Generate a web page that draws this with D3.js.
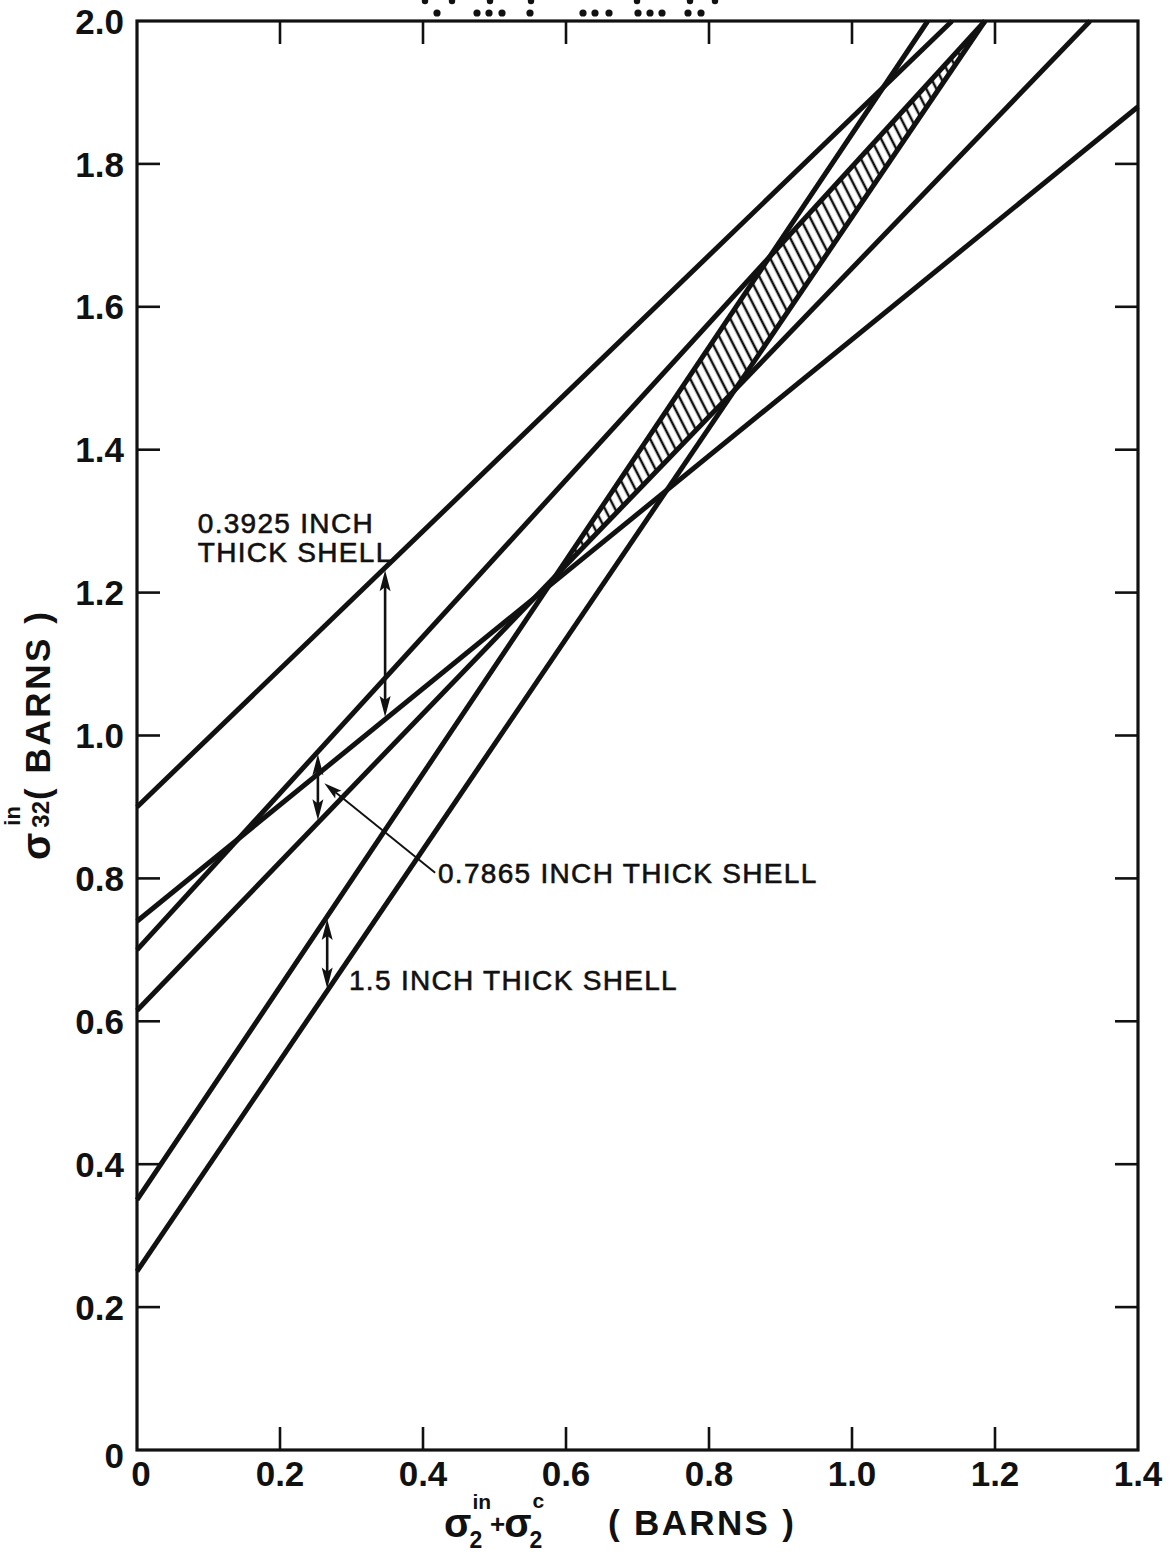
<!DOCTYPE html>
<html>
<head>
<meta charset="utf-8">
<script src="https://cdn.jsdelivr.net/npm/d3@7"></script>
<style>
  html, body { margin: 0; padding: 0; background: #fff; }
  svg { display: block; }
  text { font-family: "Liberation Sans", Arial, sans-serif; fill: #111; }
</style>
</head>
<body>
<svg id="chart" width="1174" height="1552"></svg>
<script>
// ---------------- DATA ----------------
const xTickValues = [0, 0.2, 0.4, 0.6, 0.8, 1.0, 1.2, 1.4];
const xTickLabels = ["0", "0.2", "0.4", "0.6", "0.8", "1.0", "1.2", "1.4"];
const yTickValues = [0, 0.2, 0.4, 0.6, 0.8, 1.0, 1.2, 1.4, 1.6, 1.8, 2.0];
const yTickLabels = ["0", "0.2", "0.4", "0.6", "0.8", "1.0", "1.2", "1.4", "1.6", "1.8", "2.0"];

// six straight lines: value at x = 0, and the point where each line leaves the frame
const lineShell     = ["0.3925", "0.3925", "0.7865", "0.7865", "1.5", "1.5"];
const lineBound     = ["upper", "lower", "upper", "lower", "upper", "lower"];
const lineIntercept = [0.90, 0.74, 0.70, 0.615, 0.35, 0.25];
const lineEndX      = [1.140, 1.400, 1.186, 1.333, 1.106, 1.186];
const lineEndY      = [2.0, 1.880, 2.0, 2.0, 2.0, 2.0];

// double-headed arrows showing each shell's band (upper line index, lower line index, x position)
const arrowUpper = [0, 2, 4];
const arrowLower = [1, 3, 5];
const arrowX     = [0.347, 0.253, 0.266];

// annotation texts
const annotationLines = [["0.3925 INCH", "THICK SHELL"], ["0.7865 INCH THICK SHELL"], ["1.5 INCH THICK SHELL"]];

// ---------------- LAYOUT ----------------
const W = 1174, H = 1552;
const margin = { left: 137, right: 36, top: 21, bottom: 102 };
const svg = d3.select("#chart");
const x = d3.scaleLinear().domain([0, 1.4]).range([margin.left, W - margin.right]);
const y = d3.scaleLinear().domain([0, 2.0]).range([H - margin.bottom, margin.top]);
const ink = "#111";
const tickLen = 23;

// annotation placements (data coordinates)
const annotationPos = [
  { x: 0.085, y: [1.283, 1.243] },
  { x: 0.421, y: [0.794] },
  { x: 0.2965, y: [0.644] }
];
const leader = { from: [0.262, 0.933], to: [0.417, 0.808] };

const f = i => {
  const m = (lineEndY[i] - lineIntercept[i]) / lineEndX[i];
  return v => lineIntercept[i] + m * v;
};

// ---------------- HATCHED REGION (intersection of the three bands) ----------------
function clipPoly(poly, keep) {
  const out = [];
  for (let i = 0; i < poly.length; i++) {
    const a = poly[i], b = poly[(i + 1) % poly.length];
    const va = keep(a), vb = keep(b);
    if (va >= 0) out.push(a);
    if ((va >= 0) !== (vb >= 0)) {
      const t = va / (va - vb);
      out.push([a[0] + t * (b[0] - a[0]), a[1] + t * (b[1] - a[1])]);
    }
  }
  return out;
}
let region = [[0, 0], [1.4, 0], [1.4, 2], [0, 2]];
lineIntercept.forEach((_, i) => {
  const fi = f(i);
  region = clipPoly(region, lineBound[i] === "upper" ? p => fi(p[0]) - p[1] : p => p[1] - fi(p[0]));
});

const defs = svg.append("defs");
const pat = defs.append("pattern")
  .attr("id", "hatch").attr("patternUnits", "userSpaceOnUse")
  .attr("width", 9).attr("height", 9)
  .attr("patternTransform", "rotate(-27)");
pat.append("line").attr("x1", 2).attr("y1", 0).attr("x2", 2).attr("y2", 9)
  .attr("stroke", ink).attr("stroke-width", 2.5);

svg.append("path")
  .attr("d", d3.line().x(d => x(d[0])).y(d => y(d[1]))(region) + "Z")
  .attr("fill", "url(#hatch)").attr("stroke", "none");

// ---------------- FRAME & TICKS ----------------
svg.append("rect")
  .attr("x", x(0)).attr("y", y(2)).attr("width", x(1.4) - x(0)).attr("height", y(0) - y(2))
  .attr("fill", "none").attr("stroke", ink).attr("stroke-width", 3.2);

const g = svg.append("g").attr("stroke", ink).attr("stroke-width", 2.6);
xTickValues.filter(v => v > 0 && v < 1.4).forEach(v => {
  g.append("line").attr("x1", x(v)).attr("x2", x(v)).attr("y1", y(0)).attr("y2", y(0) - tickLen);
  g.append("line").attr("x1", x(v)).attr("x2", x(v)).attr("y1", y(2)).attr("y2", y(2) + tickLen);
});
yTickValues.filter(v => v > 0 && v < 2).forEach(v => {
  g.append("line").attr("x1", x(0)).attr("x2", x(0) + tickLen).attr("y1", y(v)).attr("y2", y(v));
  g.append("line").attr("x1", x(1.4)).attr("x2", x(1.4) - tickLen).attr("y1", y(v)).attr("y2", y(v));
});

// tick labels
svg.append("g").selectAll("text").data(xTickValues).join("text")
  .attr("x", (d, i) => x(d) + (i === 0 ? 4 : 0))
  .attr("y", y(0) + 36)
  .attr("text-anchor", "middle")
  .attr("font-size", 35).attr("font-weight", "bold")
  .text((d, i) => xTickLabels[i]);

svg.append("g").selectAll("text").data(yTickValues).join("text")
  .attr("x", x(0) - 13)
  .attr("y", (d, i) => y(d) + (i === 0 ? 5 : 0))
  .attr("dy", "0.36em")
  .attr("text-anchor", "end")
  .attr("font-size", 35).attr("font-weight", "bold")
  .text((d, i) => yTickLabels[i]);

// ---------------- LINES ----------------
svg.append("g").selectAll("line").data(lineIntercept).join("line")
  .attr("x1", x(0)).attr("y1", d => y(d))
  .attr("x2", (d, i) => x(lineEndX[i])).attr("y2", (d, i) => y(lineEndY[i]))
  .attr("stroke", ink).attr("stroke-width", 5).attr("stroke-linecap", "butt");

// ---------------- ARROWS ----------------
function arrowHead(tx, ty, dx, dy, len, half) {
  const n = Math.hypot(dx, dy); dx /= n; dy /= n;
  const bx = tx - dx * len, by = ty - dy * len;
  const px = -dy, py = dx;
  return `M${tx},${ty}L${bx + px * half},${by + py * half}L${tx - dx * len * 0.8},${ty - dy * len * 0.8}L${bx - px * half},${by - py * half}Z`;
}
const ag = svg.append("g");
arrowX.forEach((ax, k) => {
  const xp = x(ax);
  const yTop = y(f(arrowUpper[k])(ax)) + 2.5;
  const yBot = y(f(arrowLower[k])(ax)) - 2.5;
  ag.append("line").attr("x1", xp).attr("x2", xp).attr("y1", yTop + 10).attr("y2", yBot - 10)
    .attr("stroke", ink).attr("stroke-width", 2.6);
  ag.append("path").attr("d", arrowHead(xp, yTop, 0, -1, 21, 5.5)).attr("fill", ink);
  ag.append("path").attr("d", arrowHead(xp, yBot, 0, 1, 21, 5.5)).attr("fill", ink);
});
// leader for the 0.7865 label
{
  const x1 = x(leader.from[0]), y1 = y(leader.from[1]);
  const x2 = x(leader.to[0]), y2 = y(leader.to[1]);
  ag.append("line").attr("x1", x1 + (x2 - x1) * 0.1).attr("y1", y1 + (y2 - y1) * 0.1)
    .attr("x2", x2).attr("y2", y2).attr("stroke", ink).attr("stroke-width", 1.9);
  ag.append("path").attr("d", arrowHead(x1, y1, x1 - x2, y1 - y2, 18, 5)).attr("fill", ink);
}

// ---------------- ANNOTATIONS ----------------
annotationLines.forEach((lines, k) => {
  lines.forEach((t, j) => {
    svg.append("text")
      .attr("x", x(annotationPos[k].x)).attr("y", y(annotationPos[k].y[j]))
      .attr("font-size", 28).attr("letter-spacing", 1.3)
      .attr("stroke", ink).attr("stroke-width", 0.6)
      .text(t);
  });
});

// ---------------- AXIS TITLES ----------------
function piece(parent, str, px, py, size) {
  const t = parent.append("text").attr("x", px).attr("y", py).attr("font-size", size).text(str);
  return px + t.node().getComputedTextLength();
}

// x title: σ2^in + σ2^c ( BARNS )
{
  const xt = svg.append("g").attr("font-weight", "bold");
  const bl = 1537;
  const e1 = piece(xt, "σ", 444, bl, 40);
  const s1 = piece(xt, "2", e1 - 2, bl + 11, 23);
  const p1 = piece(xt, "in", e1 + 1, bl - 28, 21);
  const plusEnd = piece(xt, "+", Math.max(s1, p1) - 1, bl - 4, 26);
  const e2 = piece(xt, "σ", plusEnd - 1, bl, 40);
  piece(xt, "2", e2 - 2, bl + 11, 23);
  piece(xt, "c", e2 + 1, bl - 29, 21);
  xt.append("text").attr("x", 608).attr("y", bl - 2).attr("font-size", 35)
    .attr("textLength", 186).attr("lengthAdjust", "spacing").text("( BARNS )");
}

// y title: σ 32 with superscript "in", then ( BARNS ), rotated to read upwards
{
  const yt = svg.append("g").attr("font-weight", "bold")
    .attr("transform", "translate(50,860) rotate(-90)");
  const e1 = piece(yt, "σ", 0, 0, 40);
  piece(yt, "32", e1 + 5, -1, 24);
  piece(yt, "in", e1 + 7, -30, 22);
  yt.append("text").attr("x", 60).attr("y", 0).attr("font-size", 35)
    .attr("textLength", 188).attr("lengthAdjust", "spacing").text("( BARNS )");
}

// ---------------- cropped title remnant at the top edge (scan artifact) ----------------
const artifactRowLow  = [437, 477, 489, 502, 530, 583, 595, 609, 638, 650, 662, 688, 701];
const artifactRowHigh = [425, 452, 490, 531, 637, 690, 715];
const dg = svg.append("g").attr("fill", ink);
artifactRowLow.forEach(px => dg.append("circle").attr("cx", px).attr("cy", 13).attr("r", 3.6));
artifactRowHigh.forEach(px => dg.append("circle").attr("cx", px).attr("cy", 1).attr("r", 3.2));
</script>
</body>
</html>
